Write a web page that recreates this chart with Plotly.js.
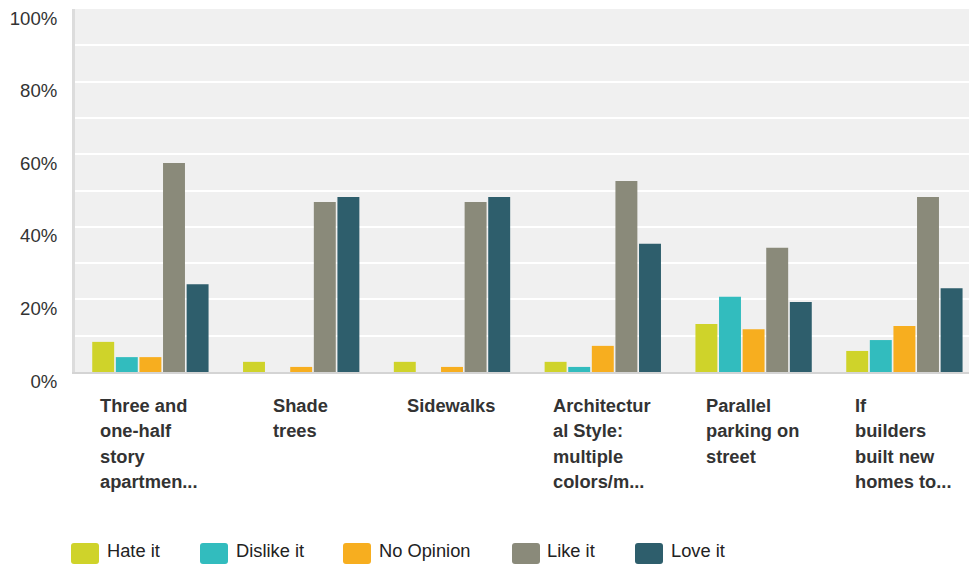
<!DOCTYPE html>
<html>
<head>
<meta charset="utf-8">
<script src="https://cdn.plot.ly/plotly-3.0.1.min.js"></script>
<style>html,body{margin:0;padding:0;background:#fff;}#chart{width:969px;height:565px;}</style>
</head>
<body>
<div id="chart"></div>
<script>
// ---- data ----
var categories = [
  "Three and<br>one-half<br>story<br>apartmen...",
  "Shade<br>trees",
  "Sidewalks",
  "Architectur<br>al Style:<br>multiple<br>colors/m...",
  "Parallel<br>parking on<br>street",
  "If<br>builders<br>built new<br>homes to..."
];
var seriesNames = ["Hate it", "Dislike it", "No Opinion", "Like it", "Love it"];
var hateIt     = [0.083, 0.028, 0.028, 0.028, 0.132, 0.058];
var dislikeIt  = [0.041, 0.000, 0.000, 0.014, 0.207, 0.088];
var noOpinion  = [0.041, 0.014, 0.014, 0.072, 0.118, 0.127];
var likeIt     = [0.576, 0.468, 0.468, 0.526, 0.342, 0.482];
var loveIt     = [0.242, 0.482, 0.482, 0.353, 0.193, 0.231];
var yTickVals  = [0, 0.2, 0.4, 0.6, 0.8, 1.0];
var yTickText  = ["0%", "20%", "40%", "60%", "80%", "100%"];

// ---- style ----
var colors = ["#cfd32a", "#32bcbe", "#f7ae1f", "#8a8a7a", "#2e5e6c"];
var FONT = '"Liberation Sans", Arial, sans-serif';
var allSeries = [hateIt, dislikeIt, noOpinion, likeIt, loveIt];
var catIdx = categories.map(function(_, i){ return i; });

var traces = allSeries.map(function(vals, s){
  return {
    type: 'bar', x: catIdx, y: vals, name: seriesNames[s],
    marker: {color: colors[s], line: {width: 0}},
    hoverinfo: 'none', showlegend: false
  };
});

// plot area in pixels: x 75..969, y 9..372 (last category slot is cropped at the right edge)
var PL = 75, PR = 969, PT = 9, PB = 372;
var SLOT = 150.8;
function px2paperX(p){ return (p - PL) / (PR - PL); }
function px2paperY(p){ return (PB - p) / (PB - PT); }

var annotations = [];
categories.forEach(function(c, i){
  annotations.push({
    x: i, xref: 'x', y: 0, yref: 'paper',
    xanchor: 'center', yanchor: 'top', align: 'left',
    xshift: -1, yshift: -21,
    text: '<span style="font-size:18.3px">' + c.split('<br>').map(function(l){return '<b>' + l + '</b>';}).join('<br>') + '</span>',
    showarrow: false,
    font: {family: FONT, size: 19.6, color: '#333333'}
  });
});

var legendSwatchX = [71, 200, 343, 512, 635];
var legendTextX = [105, 234, 377, 545, 669];
var shapes = [];
seriesNames.forEach(function(n, s){
  var w = 28, h = 21, r = 3;
  shapes.push({
    type: 'path', xref: 'paper', yref: 'paper',
    xsizemode: 'pixel', ysizemode: 'pixel',
    xanchor: px2paperX(legendSwatchX[s]), yanchor: px2paperY(564),
    path: 'M' + r + ',0 L' + (w - r) + ',0 Q' + w + ',0 ' + w + ',' + r +
          ' L' + w + ',' + (h - r) + ' Q' + w + ',' + h + ' ' + (w - r) + ',' + h +
          ' L' + r + ',' + h + ' Q0,' + h + ' 0,' + (h - r) +
          ' L0,' + r + ' Q0,0 ' + r + ',0 Z',
    fillcolor: colors[s], line: {width: 0}
  });
  annotations.push({
    x: px2paperX(legendTextX[s]), xref: 'paper', xanchor: 'left',
    y: px2paperY(550), yref: 'paper', yanchor: 'middle',
    text: n, showarrow: false,
    font: {family: FONT, size: 18.3, color: '#222222'}
  });
});

var layout = {
  width: 969, height: 565,
  margin: {l: PL, r: 969 - PR, t: PT, b: 565 - PB, pad: 0},
  paper_bgcolor: '#ffffff', plot_bgcolor: '#f0f0f0',
  font: {family: FONT, size: 18, color: '#333333'},
  barmode: 'group', bargap: 0.2175, bargroupgap: 0.07,
  showlegend: false,
  xaxis: {
    type: 'category', range: [-0.5, -0.5 + (PR - PL) / SLOT],
    showticklabels: false, showgrid: false, zeroline: false,
    showline: true, linecolor: '#d4d4d4', linewidth: 2, ticks: '', fixedrange: true
  },
  yaxis: {
    range: [0, 1], tickvals: yTickVals, ticktext: yTickText,
    showgrid: true, gridcolor: '#ffffff', gridwidth: 2,
    minor: {dtick: 0.1, showgrid: true, gridcolor: '#ffffff', gridwidth: 2, ticks: ''},
    zeroline: false, showline: true, linecolor: '#dcdcdc', linewidth: 3,
    ticks: '', ticklabelstandoff: 11, ticklabelshift: 9, ticklabeloverflow: 'allow',
    tickfont: {family: FONT, size: 18.6, color: '#333333'}, fixedrange: true
  },
  annotations: annotations,
  shapes: shapes
};

Plotly.newPlot('chart', traces, layout, {displayModeBar: false, staticPlot: true});
</script>
</body>
</html>
